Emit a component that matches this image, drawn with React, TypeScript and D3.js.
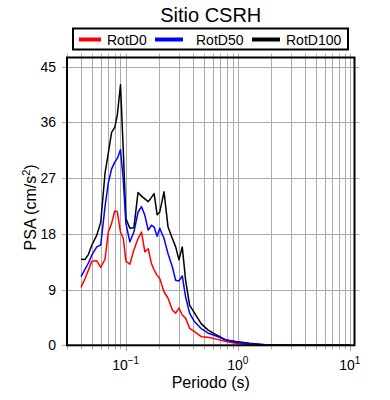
import React, { useEffect, useRef } from 'react';
import * as d3 from 'd3';

// Periods (s) and spectral ordinates (cm/s^2)
const periods = [
  0.040, 0.0435, 0.0466, 0.050, 0.0553, 0.060, 0.0655, 0.070, 0.075, 0.080,
  0.0843, 0.090, 0.0953, 0.1006, 0.109, 0.1185, 0.129, 0.1386, 0.1484, 0.159,
  0.170, 0.1795, 0.191, 0.2015, 0.220, 0.239, 0.261, 0.2795, 0.299, 0.320,
  0.343, 0.372, 0.412, 0.472, 0.541, 0.642, 0.787, 0.965, 1.27, 1.78,
  3.07, 10.0,
];

const rotD0 = [
  9.35, 10.8, 12.15, 13.6, 13.65, 12.6, 13.9, 18.3, 19.7, 21.7,
  21.6, 18.3, 17.25, 13.6, 13.1, 15.4, 17.25, 18.3, 15.1, 15.6,
  13.2, 12.2, 11.3, 10.8, 8.65, 7.6, 5.7, 5.2, 6.0, 4.9,
  4.35, 2.74, 2.2, 1.4, 1.3, 1.0, 0.6, 0.32, 0.1, 0.05,
  0.02, 0.0,
];

const rotD50 = [
  11.1, 12.3, 13.3, 14.6, 15.9, 16.2, 22.4, 26.2, 28.5, 29.6,
  30.2, 31.6, 26.7, 19.7, 16.7, 18.3, 21.5, 22.4, 21.0, 18.6,
  19.4, 19.1, 17.6, 18.9, 17.25, 14.8, 12.7, 10.5, 10.4, 11.2,
  7.8, 5.2, 3.8, 2.7, 2.0, 1.5, 0.85, 0.5, 0.26, 0.05,
  0.02, 0.0,
];

const rotD100 = [
  13.9, 13.87, 14.7, 16.2, 17.8, 19.9, 27.8, 31.0, 34.4, 35.2,
  37.2, 42.1, 31.5, 20.5, 18.9, 19.0, 24.7, 24.1, 23.65, 23.2,
  23.9, 24.5, 21.1, 21.55, 24.8, 19.1, 17.25, 15.9, 13.8, 15.9,
  10.5, 6.5, 5.2, 3.5, 2.5, 1.7, 0.85, 0.6, 0.32, 0.1,
  0.05, 0.0,
];

const yTicks = [0, 9, 18, 27, 36, 45];
const xDecades = [-1, 0, 1];

const series = [
  { name: 'RotD100', values: rotD100, color: '#000000' },
  { name: 'RotD0', values: rotD0, color: '#ff0000' },
  { name: 'RotD50', values: rotD50, color: '#0000ff' },
];

const legendItems = [
  { name: 'RotD0', color: '#ff0000' },
  { name: 'RotD50', color: '#0000ff' },
  { name: 'RotD100', color: '#000000' },
];

const FONT = '"Liberation Sans", Arial, Helvetica, sans-serif';

export default function App() {
  const svgRef = useRef<SVGSVGElement>(null);

  useEffect(() => {
    if (!svgRef.current) return;
    const svg = d3.select(svgRef.current);
    svg.selectAll('*').remove();

    const left = 67, right = 354.5, top = 57.5, bottom = 345.3;

    const x = d3.scaleLog().domain([0.03, 11]).range([left, right]);
    const y = d3.scaleLinear().domain([0, 46.5]).range([bottom, top]);

    // grid: vertical lines at every 1..9 x 10^k inside the domain
    const gridX: number[] = [];
    for (let k = -2; k <= 1; k++) {
      for (let m = 1; m <= 9; m++) {
        const v = m * Math.pow(10, k);
        if (v >= 0.03 && v <= 11) gridX.push(v);
      }
    }

    const grid = svg.append('g').attr('stroke', '#ababab').attr('stroke-width', 1);
    grid.selectAll('line.vx')
      .data(gridX)
      .join('line')
      .attr('x1', d => Math.round(x(d)) + 0.5)
      .attr('x2', d => Math.round(x(d)) + 0.5)
      .attr('y1', top - 4)
      .attr('y2', d => (Math.abs(Math.log10(d) % 1) < 1e-6 ? bottom + 6 : bottom + 4));

    grid.selectAll('line.hy')
      .data(yTicks.filter(t => t > 0))
      .join('line')
      .attr('x1', left - 5)
      .attr('x2', right + 5)
      .attr('y1', d => Math.round(y(d)) + 0.5)
      .attr('y2', d => Math.round(y(d)) + 0.5);

    grid.append('line')
      .attr('x1', left - 5).attr('x2', left)
      .attr('y1', y(0)).attr('y2', y(0));

    // curves
    const line = d3.line<number>()
      .x((_, i) => x(periods[i]))
      .y(d => y(d));

    series.forEach(s => {
      svg.append('path')
        .datum(s.values)
        .attr('fill', 'none')
        .attr('stroke', s.color)
        .attr('stroke-width', 1.5)
        .attr('stroke-linejoin', 'round')
        .attr('d', line);
    });

    // frame
    svg.append('rect')
      .attr('x', left).attr('y', top)
      .attr('width', right - left).attr('height', bottom - top)
      .attr('fill', 'none')
      .attr('stroke', '#000')
      .attr('stroke-width', 2);

    // y tick labels
    svg.append('g')
      .selectAll('text')
      .data(yTicks)
      .join('text')
      .attr('x', left - 11)
      .attr('y', d => y(d) + 5)
      .attr('text-anchor', 'end')
      .attr('font-family', FONT)
      .attr('font-size', 14)
      .text(d => d);

    // x tick labels 10^k
    const xl = svg.append('g')
      .selectAll('text')
      .data(xDecades)
      .join('text')
      .attr('x', d => x(Math.pow(10, d)))
      .attr('y', 370)
      .attr('text-anchor', 'middle')
      .attr('font-family', FONT)
      .attr('font-size', 14);
    xl.append('tspan').text('10');
    xl.append('tspan')
      .attr('dy', -6)
      .attr('font-size', 10)
      .text(d => (d < 0 ? '\u2212' + Math.abs(d) : String(d)));

    // axis titles
    svg.append('text')
      .attr('x', (left + right) / 2)
      .attr('y', 388)
      .attr('text-anchor', 'middle')
      .attr('font-family', FONT)
      .attr('font-size', 16)
      .text('Periodo (s)');

    const yl = svg.append('text')
      .attr('transform', `translate(36,${(top + bottom) / 2 + 6}) rotate(-90)`)
      .attr('text-anchor', 'middle')
      .attr('font-family', FONT)
      .attr('font-size', 16);
    yl.append('tspan').text('PSA (cm/s');
    yl.append('tspan').attr('dy', -6).attr('font-size', 11).text('2');
    yl.append('tspan').attr('dy', 6).text(')');

    // title
    svg.append('text')
      .attr('x', (left + right) / 2)
      .attr('y', 22)
      .attr('text-anchor', 'middle')
      .attr('font-family', FONT)
      .attr('font-size', 20)
      .text('Sitio CSRH');

    // legend
    svg.append('rect')
      .attr('x', 73).attr('y', 28.5)
      .attr('width', 275).attr('height', 21)
      .attr('fill', '#fff')
      .attr('stroke', '#000')
      .attr('stroke-width', 2);

    const legendX = [79, 155, 252];
    const lg = svg.append('g')
      .selectAll('g')
      .data(legendItems)
      .join('g')
      .attr('transform', (_, i) => `translate(${legendX[i]},39.5)`);
    lg.append('line')
      .attr('x1', 0).attr('x2', (_, i) => (i === 0 ? 22 : 28))
      .attr('y1', 0).attr('y2', 0)
      .attr('stroke', d => d.color)
      .attr('stroke-width', 4);
    lg.append('text')
      .attr('x', (_, i) => (i === 0 ? 28 : i === 1 ? 41 : 34))
      .attr('y', 5)
      .attr('font-family', FONT)
      .attr('font-size', 14)
      .text(d => d.name);
  }, []);

  return (
    <svg
      ref={svgRef}
      width={390}
      height={400}
      style={{ position: 'absolute', left: 0, top: 0, background: '#fff' }}
    />
  );
}
